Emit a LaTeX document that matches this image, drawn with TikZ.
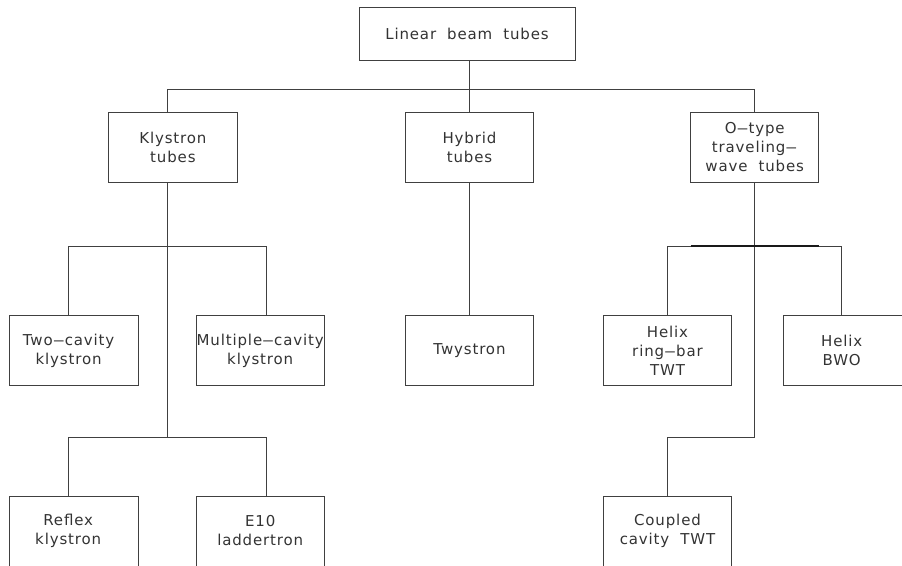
\documentclass[tikz,border=0pt]{standalone}
\usepackage{fontspec}
\setmainfont{DejaVu Sans}[LetterSpace=5.7]
\newcommand{\xgap}{\hspace{11pt}}
\newcommand{\ldash}{\scalebox{1.6}[1]{–}}
\begin{document}
\begin{tikzpicture}[x=1pt,y=-1pt,
  box/.style={draw=black!75, line width=0.9pt, minimum width=128.3pt, minimum height=70pt,
    inner sep=0pt, align=center, font=\fontsize{15}{19}\selectfont, text=black!80},
  txt/.style={inner sep=0pt, align=center, font=\fontsize{15}{19}\selectfont, text=black!80},
  conn/.style={draw=black!75, line width=0.9pt}]
\useasboundingbox (0,0) rectangle (902,565);
\clip (0,0) rectangle (902,565);
% level 1
\node[box, minimum width=216pt, minimum height=53pt] (top) at (467,33.5) {Linear\xgap beam\xgap tubes};
% level 2
\node[box] (kly) at (172.9,147) {Klystron\\tubes};
\node[box] (hyb) at (469.5,147) {Hybrid\\tubes};
\node[box] (oty) at (754.7,147) {O\ldash type\\traveling\ldash\\wave\xgap tubes};
% level 3
\node[box] (two) at (74,350.7) {};
\node[txt] (twot) at (68.6,350.7) {Two\ldash cavity\\klystron};
\node[box] (mult) at (260.2,350.7) {Multiple\ldash cavity\\klystron};
\node[box] (twy) at (469.5,350.7) {Twystron};
\node[box] (ring) at (667.5,350.7) {Helix\\ring\ldash bar\\TWT};
\node[box] (bwo) at (847.9,350.7) {};
\node[txt] (bwot) at (841.7,350.7) {Helix\\BWO};
% level 4
\node[box] (refl) at (74,531) {};
\node[txt] (reflt) at (68.2,531) {Reflex\\klystron};
\node[box] (e10) at (260.2,531) {E10\\laddertron};
\node[box] (coup) at (667.5,531) {Coupled\\cavity\xgap TWT};
% connectors
\draw[conn] (top.south -| hyb.north) -- (hyb.north);
\coordinate (kbar) at (167,89);
\draw[conn] (kly.north -| kbar) -- (kbar) -- (kbar -| oty.north) -- (oty.north);
\coordinate (ktr) at (167,437.7);
\draw[conn] (kly.south -| ktr) -- (ktr);
\coordinate (ka) at (68,246);
\coordinate (kb) at (266,246);
\draw[conn] (ka |- two.north) -- (ka) -- (kb) -- (kb |- mult.north);
\coordinate (kc) at (68,437.7);
\coordinate (kd) at (266,437.7);
\draw[conn] (kc |- refl.north) -- (kc) -- (kd) -- (kd |- e10.north);
\draw[conn] (hyb.south) -- (twy.north);
\coordinate (otr) at (754.7,437.7);
\draw[conn] (oty.south) -- (otr) -- (otr -| coup.north) -- (coup.north);
\coordinate (oa) at (667.5,246);
\coordinate (ob) at (841.7,246);
\draw[conn] (ring.north) -- (oa) -- (ob) -- (ob |- bwo.north);
\draw[line width=1.4pt, black!90] (690.7,246) -- (818.7,246);
\end{tikzpicture}
\end{document}
